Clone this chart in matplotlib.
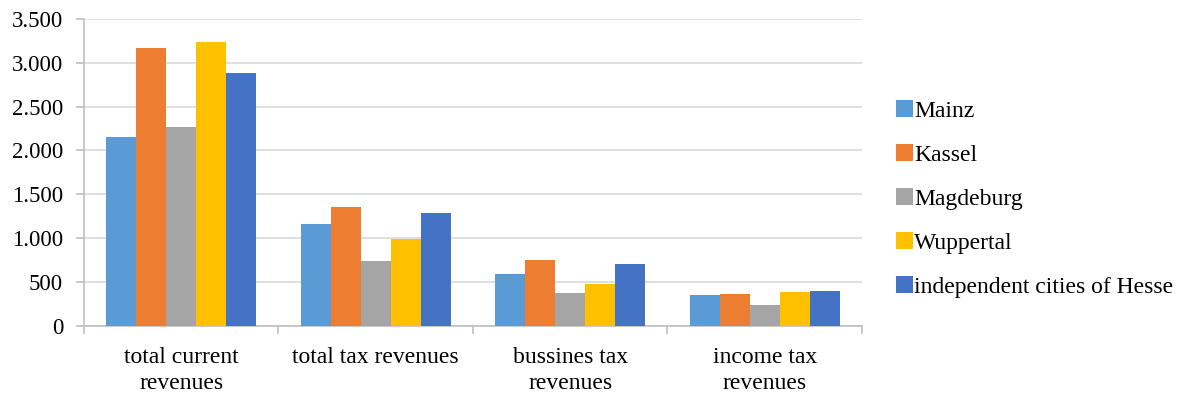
import matplotlib.pyplot as plt
from matplotlib.ticker import FuncFormatter, FixedLocator
import numpy as np

plt.rcParams['font.family'] = ['Liberation Serif', 'DejaVu Serif']

categories = ["total current\nrevenues", "total tax revenues",
              "bussines tax\nrevenues", "income tax\nrevenues"]
cities = ["Mainz", "Kassel", "Magdeburg", "Wuppertal", "independent cities of Hesse"]
colors = ["#5B9BD5", "#ED7D31", "#A5A5A5", "#FFC000", "#4472C4"]

mainz = [2155, 1160, 589, 350]
kassel = [3169, 1360, 749, 365]
magdeburg = [2269, 741, 380, 236]
wuppertal = [3238, 992, 479, 391]
hesse = [2884, 1292, 703, 399]
series = [mainz, kassel, magdeburg, wuppertal, hesse]

fig = plt.figure(figsize=(11.81, 3.94), dpi=100)
ax = fig.add_axes([0.0711, 0.1726, 0.6587, 0.7797])

x = np.arange(len(categories))
w = 0.154
for i, vals in enumerate(series):
    ax.bar(x + (i - 2) * w, vals, w, color=colors[i], label=cities[i], zorder=3)

ax.set_xlim(-0.5, len(categories) - 0.5)
ax.set_ylim(0, 3500)
ax.set_yticks(np.arange(0, 3501, 500))
ax.yaxis.set_major_formatter(FuncFormatter(lambda v, p: f"{int(v):,}".replace(",", ".")))
ax.grid(axis='y', color='#D9D9D9', linewidth=1.2, zorder=0)

ax.set_xticks(x)
ax.set_xticklabels(categories, linespacing=1.3)
ax.xaxis.set_minor_locator(FixedLocator(np.arange(-0.5, len(categories), 1)))
ax.tick_params(axis='x', which='major', length=0, pad=15, labelsize=17)
ax.tick_params(axis='x', which='minor', length=6, color='#BFBFBF', width=1.2)
ax.tick_params(axis='y', length=6, color='#BFBFBF', width=1.2, labelsize=16.5, pad=9)

for s in ['top', 'right']:
    ax.spines[s].set_visible(False)
for s in ['left', 'bottom']:
    ax.spines[s].set_color('#BFBFBF')
    ax.spines[s].set_linewidth(1.2)

handles, labels = ax.get_legend_handles_labels()
fig.legend(handles, labels, loc='center left', bbox_to_anchor=(896 / 1181, 0.495),
           frameon=False, fontsize=17, handlelength=0.72, handleheight=0.72,
           handletextpad=0.05, labelspacing=0.95, borderpad=0, borderaxespad=0)

fig.savefig("out.png", dpi=100)
